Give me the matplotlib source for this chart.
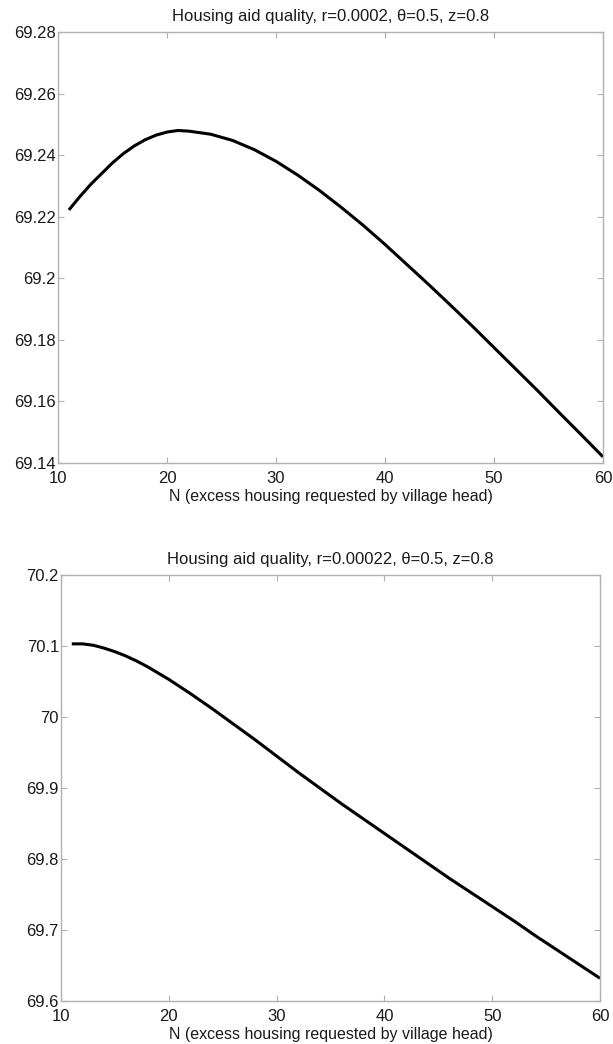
import matplotlib
matplotlib.use("Agg")
import matplotlib.pyplot as plt

plt.rcParams['font.family'] = ['Liberation Sans', 'DejaVu Sans']

# Top panel: r=0.0002
n_top = [11, 12, 13, 14, 15, 16, 17, 18, 19, 20, 21, 22, 24, 26, 28, 30, 32, 34, 36,
         38, 40, 42, 44, 46, 48, 50, 52, 54, 56, 58, 60]
q_top = [69.2222, 69.2265, 69.2305, 69.2340, 69.2375, 69.2405, 69.2430, 69.2450,
         69.2465, 69.2475, 69.2480, 69.2478, 69.2468, 69.2448, 69.2418, 69.2380,
         69.2335, 69.2285, 69.2230, 69.2172, 69.2110, 69.2045, 69.1980, 69.1913,
         69.1845, 69.1775, 69.1705, 69.1635, 69.1563, 69.1492, 69.1420]

# Bottom panel: r=0.00022
n_bot = [11, 12, 13, 14, 15, 16, 17, 18, 19, 20, 22, 24, 26, 28, 30, 32, 34, 36, 38,
         40, 42, 44, 46, 48, 50, 52, 54, 56, 58, 60]
q_bot = [70.103, 70.103, 70.101, 70.097, 70.092, 70.086, 70.079, 70.071, 70.062,
         70.053, 70.033, 70.012, 69.990, 69.968, 69.945, 69.922, 69.900, 69.878,
         69.857, 69.836, 69.815, 69.794, 69.773, 69.753, 69.733, 69.713, 69.692,
         69.672, 69.652, 69.632]

xticks = [10, 20, 30, 40, 50, 60]
yticks_top = [69.14, 69.16, 69.18, 69.2, 69.22, 69.24, 69.26, 69.28]
ytick_labels_top = ['69.14', '69.16', '69.18', '69.2', '69.22', '69.24', '69.26', '69.28']
yticks_bot = [69.6, 69.7, 69.8, 69.9, 70.0, 70.1, 70.2]
ytick_labels_bot = ['69.6', '69.7', '69.8', '69.9', '70', '70.1', '70.2']

titles = ['Housing aid quality, r=0.0002, \u03b8=0.5, z=0.8',
          'Housing aid quality, r=0.00022, \u03b8=0.5, z=0.8']
xlabel = 'N (excess housing requested by village head)'

W, H = 613, 1044
fig = plt.figure(figsize=(W / 100, H / 100), dpi=100)

ax1 = fig.add_axes([58 / W, 1 - 463 / H, (603 - 58) / W, (463 - 32) / H])
ax2 = fig.add_axes([61 / W, 1 - 1001 / H, (600 - 61) / W, (1001 - 575) / H])

panels = [
    (ax1, n_top, q_top, yticks_top, ytick_labels_top, (69.14, 69.28), titles[0]),
    (ax2, n_bot, q_bot, yticks_bot, ytick_labels_bot, (69.6, 70.2), titles[1]),
]

txt = '#1a1a1a'
for ax, x, y, yt, ytl, ylim, title in panels:
    ax.plot(x, y, color='black', lw=2.2, solid_capstyle='butt')
    ax.set_xlim(10, 60)
    ax.set_ylim(*ylim)
    ax.set_xticks(xticks)
    ax.set_xticklabels([str(t) for t in xticks])
    ax.set_yticks(yt)
    ax.set_yticklabels(ytl)
    for s in ax.spines.values():
        s.set_color('#b0b0b0')
        s.set_linewidth(1.0)
    ax.tick_params(direction='in', top=True, right=True, length=4, width=0.8,
                   color='#b0b0b0', labelsize=12, labelcolor=txt)
    ax.tick_params(axis='x', pad=5.5)
    ax.tick_params(axis='y', pad=1.5)
    ax.set_title(title, fontsize=12, color=txt, pad=8)
    ax.set_xlabel(xlabel, fontsize=11.5, color=txt, labelpad=2.5)

fig.savefig('out.png', dpi=100)
